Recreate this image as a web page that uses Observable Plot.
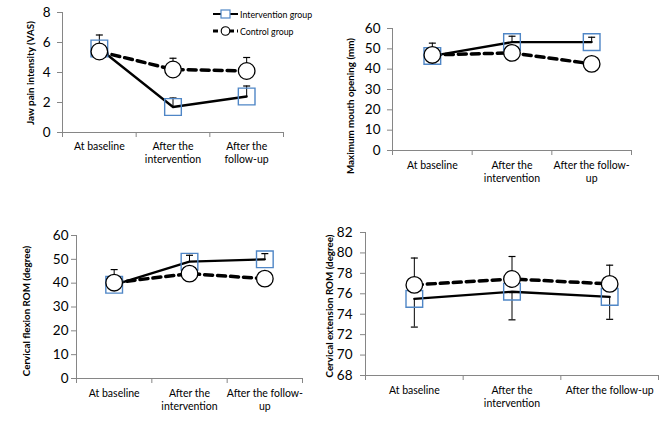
<!DOCTYPE html>
<html><head><meta charset="utf-8">
<script src="https://cdn.jsdelivr.net/npm/d3@7"></script>
<script src="https://cdn.jsdelivr.net/npm/@observablehq/plot@0.6"></script>
<style>
body{margin:0;background:#fff;font-family:Lato,"Open Sans",sans-serif;}
#wrap{position:relative;width:672px;height:423px;overflow:hidden;background:#fff;}
.panel{position:absolute;}
.ytitle{position:absolute;font-family:Lato,sans-serif;font-weight:bold;font-size:9.8px;white-space:nowrap;transform:translate(-50%,-50%) rotate(-90deg);color:#000;}
#legend{position:absolute;left:205px;top:4px;}
</style></head><body><div id="wrap"></div>
<script>
// ----- shared categories -----
const timepoints = ["At baseline", "After the intervention", "After the follow-up"];
const seriesNames = ["Intervention group", "Control group"];

// ----- Panel 1: jaw pain intensity (VAS) -----
const painTitle = "Jaw pain intensity (VAS)";
const painLabels = ["At baseline", "After the\nintervention", "After the\nfollow-up"];
const painTicks = [0, 2, 4, 6, 8];
const painIntervention = [5.6, 1.7, 2.4];
const painControl = [5.4, 4.2, 4.1];
const painIntHigh = [6.5, 2.3, 3.1];
const painIntLow = [null, null, null];
const painCtlHigh = [null, 4.95, 5.0];
const painCtlLow = [null, null, null];

// ----- Panel 2: maximum mouth opening (mm) -----
const mouthTitle = "Maximum mouth opening (mm)";
const mouthLabels = ["At baseline", "After the\nintervention", "After the follow-\nup"];
const mouthTicks = [0, 10, 20, 30, 40, 50, 60];
const mouthIntervention = [46.5, 53.3, 53.3];
const mouthControl = [47.0, 48.0, 42.6];
const mouthIntHigh = [null, 56.2, 55.7];
const mouthIntLow = [null, null, null];
const mouthCtlHigh = [52.8, null, null];
const mouthCtlLow = [null, null, null];

// ----- Panel 3: cervical flexion ROM (degree) -----
const flexTitle = "Cervical flexion ROM (degree)";
const flexLabels = ["At baseline", "After the\nintervention", "After the follow-\nup"];
const flexTicks = [0, 10, 20, 30, 40, 50, 60];
const flexIntervention = [39.3, 49.0, 50.0];
const flexControl = [40.2, 44.0, 41.9];
const flexIntHigh = [null, 51.7, 52.4];
const flexIntLow = [null, null, null];
const flexCtlHigh = [45.7, null, null];
const flexCtlLow = [null, null, null];

// ----- Panel 4: cervical extension ROM (degree) -----
const extTitle = "Cervical extension ROM (degree)";
const extLabels = ["At baseline", "After the\nintervention", "After the follow-up"];
const extTicks = [68, 70, 72, 74, 76, 78, 80, 82];
const extIntervention = [75.5, 76.2, 75.7];
const extControl = [76.87, 77.45, 76.97];
const extIntHigh = [null, null, null];
const extIntLow = [72.74, 73.45, 73.5];
const extCtlHigh = [79.5, 79.65, 78.8];
const extCtlLow = [null, null, null];

// ----- drawing -----
const AXIS = "#868686";
const BLUE = "#4f86c6";
const capSymbol = {draw(ctx, size) { const w = Math.sqrt(size / Math.PI); ctx.moveTo(-w, 0); ctx.lineTo(w, 0); }};

function panel(cfg) {
  const rows = timepoints.map((t, i) => ({
    t, pos: i + 0.5, int: cfg.int[i], ctl: cfg.ctl[i]
  }));
  const errs = [];
  timepoints.forEach((t, i) => {
    const pairs = [[cfg.int[i], cfg.intHigh[i]], [cfg.int[i], cfg.intLow[i]], [cfg.ctl[i], cfg.ctlHigh[i]], [cfg.ctl[i], cfg.ctlLow[i]]];
    for (const [m, e] of pairs) if (e != null) errs.push({pos: i + 0.5, m, e});
  });
  const y0 = cfg.ticks[0], y1 = cfg.ticks[cfg.ticks.length - 1];
  const chart = Plot.plot({
    width: cfg.width, height: cfg.height,
    marginLeft: cfg.ml, marginRight: cfg.mr, marginTop: cfg.mt, marginBottom: cfg.mb,
    style: {fontFamily: "Lato, sans-serif", background: "transparent", overflow: "visible"},
    x: {domain: [0, timepoints.length]},
    y: {domain: [y0, y1]},
    marks: [
      Plot.ruleY([y0], {stroke: AXIS, strokeWidth: 1}),
      Plot.ruleX([0], {stroke: AXIS, strokeWidth: 1}),
      Plot.axisY({ticks: cfg.ticks, tickSize: 5, tickPadding: cfg.tp, stroke: AXIS, fill: "#000", fontSize: 13.5, label: null}),
      Plot.axisX({ticks: d3.range(timepoints.length + 1), tickSize: 5, tickFormat: () => "", stroke: AXIS, label: null}),
      Plot.axisX({ticks: timepoints.map((t, i) => i + 0.5), tickSize: 0, tickPadding: cfg.xp, tickFormat: d => cfg.labels[Math.floor(d)], fill: "#000", fontSize: 10.5, lineHeight: 1.25, label: null}),
      Plot.line(rows, {x: "pos", y: "int", stroke: "#000", strokeWidth: 2.3}),
      Plot.line(rows, {x: "pos", y: "ctl", stroke: "#000", strokeWidth: 3.5, strokeDasharray: "8,5"}),
      Plot.ruleX(errs, {x: "pos", y1: "m", y2: "e", stroke: "#000", strokeWidth: 1}),
      Plot.dot(errs, {x: "pos", y: "e", symbol: capSymbol, r: 3.5, stroke: "#000", strokeWidth: 1.2}),
      Plot.dot(rows, {x: "pos", y: "int", symbol: "square", r: 9.4, stroke: BLUE, strokeWidth: 1.4, fill: "none"}),
      Plot.dot(rows, {x: "pos", y: "ctl", r: 8.3, stroke: "#000", strokeWidth: 1.3, fill: "white"})
    ]
  });
  const div = document.createElement("div");
  div.className = "panel";
  div.style.left = cfg.left + "px";
  div.style.top = cfg.top + "px";
  div.appendChild(chart);
  document.getElementById("wrap").appendChild(div);
  const t = document.createElement("div");
  t.className = "ytitle";
  t.textContent = cfg.title;
  t.style.left = cfg.tx + "px";
  t.style.top = cfg.ty + "px";
  document.getElementById("wrap").appendChild(t);
}

panel({left: 0, top: 0, width: 300, height: 175, ml: 62, mr: 17, mt: 12, mb: 43, tp: 7, xp: 8,
  ticks: painTicks, labels: painLabels, int: painIntervention, ctl: painControl,
  intHigh: painIntHigh, intLow: painIntLow, ctlHigh: painCtlHigh, ctlLow: painCtlLow,
  title: painTitle, tx: 30, ty: 73});
panel({left: 336, top: 0, width: 310, height: 195, ml: 56, mr: 15, mt: 28, mb: 45, tp: 7, xp: 9,
  ticks: mouthTicks, labels: mouthLabels, int: mouthIntervention, ctl: mouthControl,
  intHigh: mouthIntHigh, intLow: mouthIntLow, ctlHigh: mouthCtlHigh, ctlLow: mouthCtlLow,
  title: mouthTitle, tx: 350, ty: 106});
panel({left: 0, top: 220, width: 320, height: 200, ml: 76, mr: 18, mt: 15, mb: 42, tp: 3, xp: 9,
  ticks: flexTicks, labels: flexLabels, int: flexIntervention, ctl: flexControl,
  intHigh: flexIntHigh, intLow: flexIntLow, ctlHigh: flexCtlHigh, ctlLow: flexCtlLow,
  title: flexTitle, tx: 26, ty: 311});
panel({left: 336, top: 220, width: 336, height: 200, ml: 29, mr: 14, mt: 12, mb: 45, tp: 8, xp: 9,
  ticks: extTicks, labels: extLabels, int: extIntervention, ctl: extControl,
  intHigh: extIntHigh, intLow: extIntLow, ctlHigh: extCtlHigh, ctlLow: extCtlLow,
  title: extTitle, tx: 329, ty: 306});

// ----- legend (top-left panel) -----
const leg = d3.select("#wrap").append("svg").attr("id", "legend").attr("width", 130).attr("height", 36);
const legStyles = [
  {name: seriesNames[0], dash: null, sw: 2, sym: "square"},
  {name: seriesNames[1], dash: "5,3", sw: 3, sym: "circle"}
];
legStyles.forEach((s, i) => {
  const g = leg.append("g").attr("transform", `translate(0,${10 + i * 17})`);
  g.append("line").attr("x1", 8).attr("x2", 33).attr("y1", 0).attr("y2", 0)
    .attr("stroke", "#000").attr("stroke-width", s.sw).attr("stroke-dasharray", s.dash);
  if (s.sym === "square") g.append("rect").attr("x", 16).attr("y", -4).attr("width", 9).attr("height", 8).attr("fill", "white").attr("stroke", BLUE).attr("stroke-width", 1.2);
  else g.append("circle").attr("cx", 20.5).attr("cy", 0).attr("r", 4.3).attr("fill", "white").attr("stroke", "#000").attr("stroke-width", 1.1);
  g.append("text").attr("x", 35).attr("y", 3.5).attr("font-family", "Lato, sans-serif").attr("font-size", 8.8).text(s.name);
});
</script></body></html>
